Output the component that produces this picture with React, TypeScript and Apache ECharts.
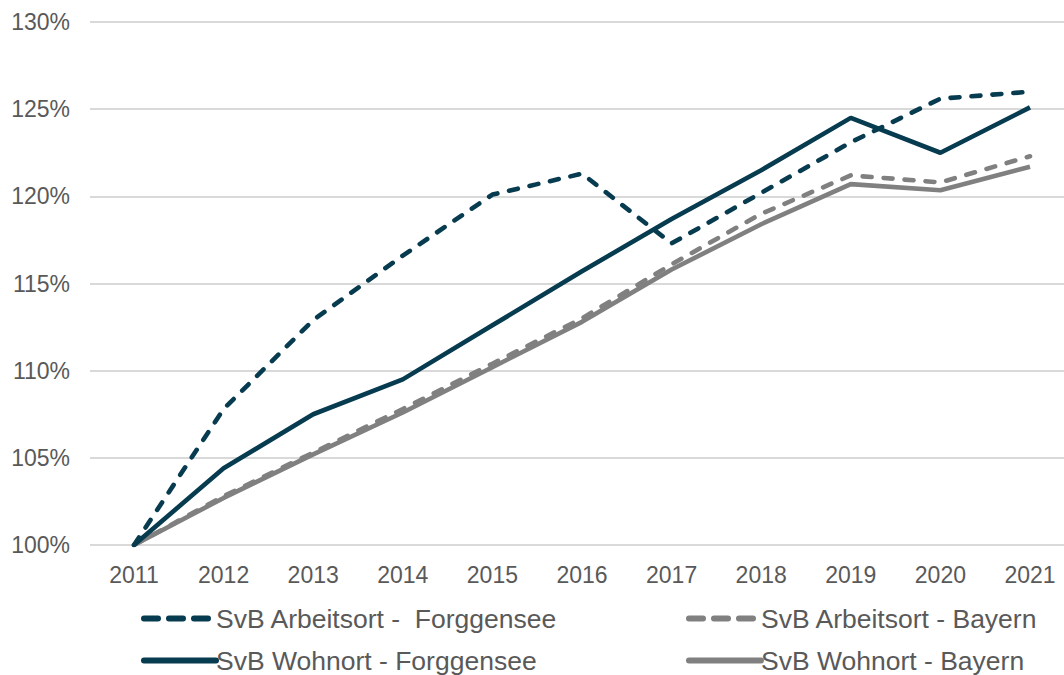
import React, { useEffect, useRef } from "react";
import * as echarts from "echarts";

const years = ["2011", "2012", "2013", "2014", "2015", "2016", "2017", "2018", "2019", "2020", "2021"];
const arbeitsortForggensee = [100, 107.8, 112.9, 116.6, 120.1, 121.3, 117.3, 120.2, 123.1, 125.6, 126.0];
const wohnortForggensee = [100, 104.4, 107.5, 109.5, 112.6, 115.7, 118.7, 121.5, 124.5, 122.5, 125.1];
const arbeitsortBayern = [100, 102.8, 105.3, 107.8, 110.4, 113.0, 116.1, 119.0, 121.2, 120.8, 122.3];
const wohnortBayern = [100, 102.7, 105.2, 107.6, 110.2, 112.8, 115.8, 118.4, 120.7, 120.35, 121.7];

const DARK = "#073B4F";
const GRAY = "#808080";
const TEXT = "#595959";
const FONT = "Liberation Sans, Arial, sans-serif";

const N_AF = "SvB Arbeitsort -  Forggensee";
const N_WF = "SvB Wohnort - Forggensee";
const N_AB = "SvB Arbeitsort - Bayern";
const N_WB = "SvB Wohnort - Bayern";

export default function App() {
  const ref = useRef<HTMLDivElement>(null);
  useEffect(() => {
    if (!ref.current) return;
    const chart = echarts.init(ref.current, null, { renderer: "svg" });
    const dash = [9, 12];
    const mk = (name: string, data: number[], color: string, dashed: boolean, z: number) => ({
      name,
      type: "line",
      data,
      symbol: "none",
      xAxisIndex: 0,
      yAxisIndex: 0,
      z,
      lineStyle: { color, width: 4.6, type: dashed ? dash : "solid", cap: dashed ? "round" : "butt" },
      itemStyle: { color },
    });
    const leg = (name: string, left: number, top: number, dashed: boolean, w: number) => ({
      data: [name],
      left,
      top,
      itemWidth: w,
      itemHeight: 26,
      itemGap: 0,
      selectedMode: false,
      itemStyle: { opacity: 0 },
      lineStyle: { width: 6, type: dashed ? [14, 11] : "solid", cap: "round" },
      textStyle: { color: TEXT, fontSize: 26.5, lineHeight: 26, fontFamily: FONT, padding: [0, 0, 0, -5] },
    });
    chart.setOption({
      animation: false,
      textStyle: { fontFamily: FONT },
      grid: [
        { left: 134, right: 34, top: 22, bottom: 130 },
        { left: 90, right: 0, top: 22, bottom: 130 },
      ],
      xAxis: [
        {
          type: "category",
          gridIndex: 0,
          data: years,
          boundaryGap: false,
          axisLine: { show: false },
          axisTick: { show: false },
          axisLabel: { color: TEXT, fontSize: 23, margin: 18, fontFamily: FONT },
        },
        { type: "value", gridIndex: 1, show: false },
      ],
      yAxis: [
        {
          type: "value",
          gridIndex: 0,
          min: 100,
          max: 130,
          interval: 5,
          show: false,
          splitLine: { show: false },
        },
        {
          type: "value",
          gridIndex: 1,
          min: 100,
          max: 130,
          interval: 5,
          axisLine: { show: false },
          axisTick: { show: false },
          splitLine: { lineStyle: { color: "#D9D9D9", width: 2 } },
          axisLabel: { color: TEXT, fontSize: 23, margin: 20, fontFamily: FONT, formatter: "{value}%" },
        },
      ],
      legend: [
        leg(N_AF, 136, 600, true, 72),
        leg(N_WF, 136, 642, false, 72),
        leg(N_AB, 681, 600, true, 72),
        leg(N_WB, 681, 642, false, 72),
      ],
      series: [
        mk(N_WB, wohnortBayern, GRAY, false, 1),
        mk(N_AB, arbeitsortBayern, GRAY, true, 2),
        mk(N_WF, wohnortForggensee, DARK, false, 3),
        mk(N_AF, arbeitsortForggensee, DARK, true, 4),
      ],
    });
    return () => chart.dispose();
  }, []);
  return <div ref={ref} style={{ width: 1064, height: 675, position: "absolute", left: 0, top: 0 }} />;
}
